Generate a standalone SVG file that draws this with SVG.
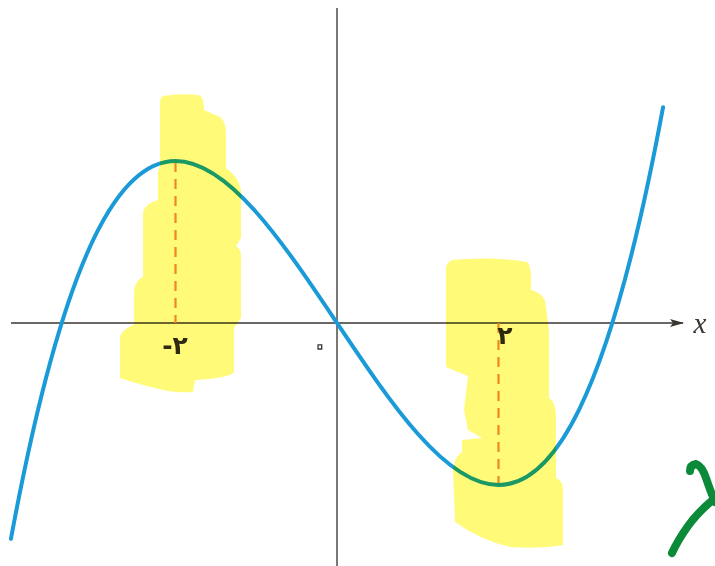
<svg xmlns="http://www.w3.org/2000/svg" width="715" height="566" viewBox="0 0 715 566">
<defs>
<style>
.axis{stroke:#3a3632;stroke-width:1.6;fill:none}
.curve{stroke:#1a9bd8;stroke-width:4;fill:none;stroke-linecap:round;stroke-linejoin:round}
.dash{stroke:#ef8a3c;stroke-width:2.2;stroke-dasharray:10 7;fill:none}
.hl{fill:#fffb78;mix-blend-mode:multiply}
.lbl{font-family:"DejaVu Sans",sans-serif;font-size:25px;font-weight:bold;fill:#2e2a26}
.ink{stroke:#0b8a3a;stroke-width:8;fill:none;stroke-linecap:round;stroke-linejoin:round}
</style>
<marker id="arr" viewBox="0 0 14 8" refX="13" refY="4" markerWidth="14" markerHeight="8" markerUnits="userSpaceOnUse" orient="auto">
<path d="M0,0 L14,4 L0,8 L3,4 Z" fill="#3a3632"/>
</marker>
</defs>
<rect width="715" height="566" fill="#ffffff"/>
<g id="axes">
<line class="axis" x1="11" y1="323" x2="683" y2="323" marker-end="url(#arr)"/>
<line class="axis" x1="337" y1="8" x2="337" y2="566" style="stroke:#5a5654"/>
</g>
<g id="guides">
<line class="dash" x1="175.5" y1="162" x2="175.5" y2="323"/>
<line class="dash" x1="498.5" y1="323" x2="498.5" y2="484"/>
</g>
<g id="curve">
<path class="curve" d="M10.93,538.84 C38.87,387.98 66.81,293.88 94.75,236.72 C121.67,181.65 148.58,161 175.5,161 C202.42,161 229.33,181.78 256.25,212.22 C283.17,242.66 310.08,282.85 337,323 C363.92,363.15 390.83,403.34 417.75,433.78 C444.67,464.22 471.58,485 498.5,485 C525.42,485 552.33,464.35 579.25,409.28 C607.19,352.12 635.13,258.02 663.07,107.16"/>
</g>
<g id="labels">
<text class="lbl" x="175" y="354" text-anchor="middle">-۲</text>
<text class="lbl" x="505" y="344" text-anchor="middle">۲</text>
<text x="320" y="356" text-anchor="middle" style="font-family:'DejaVu Sans',sans-serif;font-size:34px;fill:none;stroke:#3a3632;stroke-width:1.3">۰</text>
<text x="700" y="333" text-anchor="middle" style="font-family:'Liberation Serif',serif;font-style:italic;font-size:29px;fill:#3a3632">x</text>
</g>
<g id="highlights">
<path class="hl" d="M163,96 Q180,93 199,95 Q204,97 204,110 L220,117 Q226,121 226,135 L226,168 Q238,176 241,190 L241,238 L236,246 Q242,250 241,260 L241,318 L234,328 L234,372 Q230,378 195,380 L193,392 Q180,393 168,391 Q140,385 120,378 L120,336 Q124,328 134,325 L134,290 Q136,280 143,277 L143,212 Q146,203 158,200 L158,172 L160,165 L160,105 Q160,97 163,96 Z"/>
<path class="hl" d="M452,260 Q490,256 527,262 Q532,266 531,290 Q540,292 545,300 L549,330 L549,398 Q556,402 556,418 L556,478 Q563,481 563,490 L563,545 Q540,549 510,547 Q480,540 455,522 L453,470 Q455,456 462,452 L462,440 L482,438 L468,430 L464,410 L468,376 L458,372 L446,367 L446,268 Q447,262 452,260 Z"/>
</g>
<g id="scribble">
<path class="ink" d="M672,553 Q678,540 688,526 Q698,512 715,498"/>
<path class="ink" d="M690,471 Q690,465 696,464 Q702,466 706,478 Q710,490 715,502"/>
</g>
</svg>
